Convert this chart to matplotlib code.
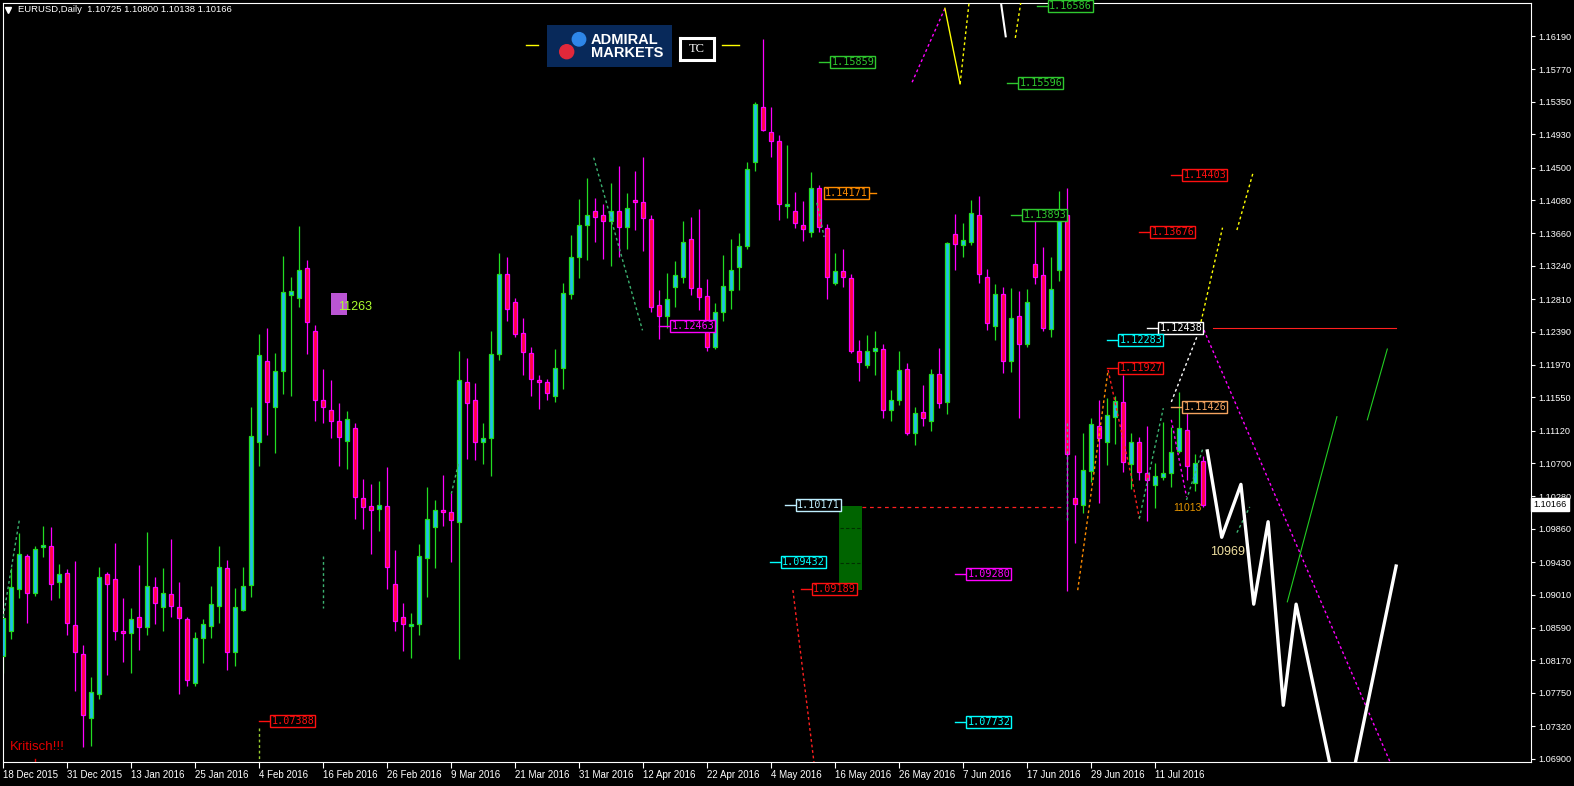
#!/usr/bin/env python3
# -*- coding: utf-8 -*-
"""
EURUSD Daily chart (MT4 style) with zigzag / level annotations
"""

import matplotlib
matplotlib.use('Agg')
import matplotlib.pyplot as plt
from matplotlib.patches import Rectangle, Circle
from matplotlib.lines import Line2D
import matplotlib.transforms as mtransforms

plt.rcParams['font.family'] = ['Liberation Sans', 'DejaVu Sans']

W, H = 1574, 786

# ---------------- OHLC data (daily bars, oldest first) ----------------
opens = [1.0823, 1.0854, 1.0909, 1.0951, 1.0903, 1.0963, 1.0964, 1.0917, 1.0929, 1.0862,
         1.0825, 1.0743, 1.0773, 1.0928, 1.0922, 1.0854, 1.0852, 1.0873, 1.0860, 1.0911,
         1.0886, 1.0902, 1.0886, 1.0870, 1.0788, 1.0845, 1.0861, 1.0887, 1.0935, 1.0827,
         1.0882, 1.0914, 1.1098, 1.1202, 1.1142, 1.1189, 1.1287, 1.1283, 1.1321, 1.1240,
         1.1152, 1.1138, 1.1124, 1.1099, 1.1115, 1.1026, 1.1015, 1.1011, 1.1015, 1.0915,
         1.0873, 1.0861, 1.0864, 1.0949, 1.0988, 1.1010, 1.1007, 1.0995, 1.1174, 1.1152,
         1.1098, 1.1102, 1.1210, 1.1313, 1.1277, 1.1237, 1.1212, 1.1177, 1.1175, 1.1157,
         1.1192, 1.1288, 1.1335, 1.1376, 1.1394, 1.1389, 1.1382, 1.1394, 1.1374, 1.1408,
         1.1406, 1.1384, 1.1273, 1.1260, 1.1297, 1.1310, 1.1358, 1.1296, 1.1285, 1.1219,
         1.1264, 1.1293, 1.1323, 1.1350, 1.1458, 1.1528, 1.1496, 1.1485, 1.1401, 1.1394,
         1.1377, 1.1368, 1.1424, 1.1372, 1.1302, 1.1317, 1.1308, 1.1214, 1.1197, 1.1215,
         1.1217, 1.1138, 1.1151, 1.1191, 1.1109, 1.1136, 1.1125, 1.1185, 1.1149, 1.1365,
         1.1351, 1.1354, 1.1389, 1.1310, 1.1246, 1.1288, 1.1202, 1.1259, 1.1223, 1.1326,
         1.1312, 1.1243, 1.1318, 1.1389, 1.1025, 1.1016, 1.1060, 1.1118, 1.1098, 1.1130,
         1.1149, 1.1069, 1.1097, 1.1057, 1.1042, 1.1052, 1.1057, 1.1086, 1.1113, 1.1045,
         1.10725]
highs = [1.0879, 1.0936, 1.0981, 1.0954, 1.0964, 1.0990, 1.0988, 1.0941, 1.0934, 1.0944,
         1.0836, 1.0795, 1.0937, 1.0930, 1.0967, 1.0897, 1.0884, 1.0940, 1.0982, 1.0924,
         1.0936, 1.0973, 1.0918, 1.0873, 1.0853, 1.0870, 1.0912, 1.0964, 1.0946, 1.0910,
         1.0937, 1.1142, 1.1236, 1.1244, 1.1212, 1.1337, 1.1309, 1.1375, 1.1331, 1.1248,
         1.1191, 1.1177, 1.1147, 1.1137, 1.1122, 1.1050, 1.1044, 1.1047, 1.1065, 1.0959,
         1.0891, 1.0878, 1.0966, 1.1040, 1.1023, 1.1055, 1.1032, 1.1215, 1.1206, 1.1173,
         1.1122, 1.1240, 1.1340, 1.1335, 1.1282, 1.1257, 1.1220, 1.1184, 1.1178, 1.1217,
         1.1302, 1.1364, 1.1410, 1.1437, 1.1411, 1.1403, 1.1430, 1.1452, 1.1418, 1.1446,
         1.1464, 1.1389, 1.1293, 1.1315, 1.1330, 1.1382, 1.1387, 1.1397, 1.1307, 1.1276,
         1.1338, 1.1359, 1.1366, 1.1457, 1.1535, 1.1616, 1.1528, 1.1492, 1.1479, 1.1419,
         1.1407, 1.1444, 1.1428, 1.1378, 1.1340, 1.1346, 1.1314, 1.1229, 1.1235, 1.1240,
         1.1224, 1.1164, 1.1214, 1.1199, 1.1142, 1.1171, 1.1191, 1.1218, 1.1355, 1.1391,
         1.1379, 1.1409, 1.1414, 1.1320, 1.1301, 1.1297, 1.1295, 1.1292, 1.1294, 1.1382,
         1.1348, 1.1335, 1.1420, 1.1424, 1.1081, 1.1109, 1.1128, 1.1152, 1.1154, 1.1156,
         1.1183, 1.1109, 1.1104, 1.1118, 1.1071, 1.1123, 1.1117, 1.1162, 1.1145, 1.1082,
         1.10800]
lows = [1.0800, 1.0844, 1.0897, 1.0865, 1.0900, 1.0950, 1.0895, 1.0897, 1.0849, 1.0777,
        1.0705, 1.0707, 1.0767, 1.0798, 1.0843, 1.0815, 1.0800, 1.0830, 1.0849, 1.0863,
        1.0855, 1.0873, 1.0773, 1.0784, 1.0784, 1.0814, 1.0846, 1.0865, 1.0805, 1.0810,
        1.0880, 1.0898, 1.1066, 1.1106, 1.1083, 1.1159, 1.1157, 1.1271, 1.1211, 1.1125,
        1.1122, 1.1102, 1.1067, 1.1063, 1.0999, 1.0986, 1.0954, 1.0983, 1.0908, 1.0855,
        1.0829, 1.0820, 1.0849, 1.0898, 1.0936, 1.0990, 1.0943, 1.0818, 1.1076, 1.1074,
        1.1069, 1.1054, 1.1203, 1.1253, 1.1233, 1.1184, 1.1156, 1.1140, 1.1151, 1.1149,
        1.1166, 1.1281, 1.1308, 1.1332, 1.1355, 1.1333, 1.1324, 1.1335, 1.1346, 1.1370,
        1.1343, 1.1265, 1.1230, 1.1244, 1.1271, 1.1302, 1.1287, 1.1267, 1.1215, 1.1217,
        1.1253, 1.1269, 1.1293, 1.1346, 1.1446, 1.1497, 1.1464, 1.1383, 1.1385, 1.1373,
        1.1356, 1.1361, 1.1368, 1.1281, 1.1299, 1.1297, 1.1212, 1.1176, 1.1193, 1.1184,
        1.1128, 1.1125, 1.1145, 1.1107, 1.1094, 1.1118, 1.1111, 1.1141, 1.1134, 1.1319,
        1.1335, 1.1351, 1.1302, 1.1242, 1.1229, 1.1186, 1.1187, 1.1128, 1.1219, 1.1300,
        1.1240, 1.1232, 1.1305, 1.0906, 1.0967, 1.1006, 1.1046, 1.1019, 1.1068, 1.1095,
        1.1059, 1.1037, 1.1049, 1.0996, 1.1012, 1.1048, 1.1039, 1.1083, 1.1049, 1.1034,
        1.10138]
closes = [1.0871, 1.0911, 1.0954, 1.0904, 1.0960, 1.0965, 1.0915, 1.0928, 1.0865, 1.0828,
          1.0746, 1.0776, 1.0924, 1.0915, 1.0854, 1.0852, 1.0870, 1.0860, 1.0913, 1.0890,
          1.0903, 1.0887, 1.0871, 1.0792, 1.0845, 1.0864, 1.0889, 1.0937, 1.0828, 1.0885,
          1.0912, 1.1105, 1.1209, 1.1149, 1.1189, 1.1290, 1.1291, 1.1318, 1.1252, 1.1152,
          1.1142, 1.1125, 1.1104, 1.1127, 1.1027, 1.1014, 1.1010, 1.1016, 1.0937, 1.0868,
          1.0863, 1.0863, 1.0951, 1.0998, 1.1010, 1.1007, 1.0997, 1.1177, 1.1147, 1.1098,
          1.1102, 1.1210, 1.1313, 1.1268, 1.1236, 1.1213, 1.1178, 1.1175, 1.1160, 1.1193,
          1.1289, 1.1335, 1.1377, 1.1389, 1.1387, 1.1381, 1.1395, 1.1374, 1.1398, 1.1406,
          1.1385, 1.1271, 1.1260, 1.1281, 1.1312, 1.1354, 1.1295, 1.1284, 1.1219, 1.1264,
          1.1298, 1.1318, 1.1350, 1.1449, 1.1532, 1.1498, 1.1484, 1.1403, 1.1403, 1.1379,
          1.1371, 1.1424, 1.1374, 1.1309, 1.1317, 1.1309, 1.1214, 1.1200, 1.1214, 1.1218,
          1.1138, 1.1151, 1.1190, 1.1109, 1.1135, 1.1128, 1.1185, 1.1148, 1.1353, 1.1352,
          1.1357, 1.1392, 1.1313, 1.1250, 1.1288, 1.1202, 1.1257, 1.1223, 1.1277, 1.1310,
          1.1244, 1.1294, 1.1383, 1.1082, 1.1018, 1.1061, 1.1121, 1.1102, 1.1132, 1.1150,
          1.1072, 1.1097, 1.1059, 1.1048, 1.1054, 1.1058, 1.1084, 1.1115, 1.1066, 1.1071,
          1.10166]

date_labels = ['18 Dec 2015', '31 Dec 2015', '13 Jan 2016', '25 Jan 2016', '4 Feb 2016',
               '16 Feb 2016', '26 Feb 2016', '9 Mar 2016', '21 Mar 2016', '31 Mar 2016',
               '12 Apr 2016', '22 Apr 2016', '4 May 2016', '16 May 2016', '26 May 2016',
               '7 Jun 2016', '17 Jun 2016', '29 Jun 2016', '11 Jul 2016']
price_ticks = [1.16190, 1.15770, 1.15350, 1.14930, 1.14500, 1.14080, 1.13660, 1.13240,
               1.12810, 1.12390, 1.11970, 1.11550, 1.11120, 1.10700, 1.10280, 1.09860,
               1.09430, 1.09010, 1.08590, 1.08170, 1.07750, 1.07320, 1.06900]
last_price = 1.10166

# ---------------- indicator levels (text, bar, price, colour) ----------------
level_texts = ['1.16586', '1.15859', '1.15596', '1.14403', '1.14171', '1.13893', '1.13676',
               '1.12463', '1.12438', '1.12283', '1.11927', '1.11426', '1.10171', '1.09432',
               '1.09280', '1.09189', '1.07732', '1.07388']
level_bars = [130.5, 103.3, 126.8, 147.3, 102.5, 127.3, 143.3,
              83.3, 144.3, 139.3, 139.3, 147.3, 99.0, 97.1,
              120.3, 101.0, 120.3, 33.3]
level_prices = [1.16586, 1.15859, 1.15596, 1.14403, 1.14171, 1.13893, 1.13676,
                1.12463, 1.12438, 1.12283, 1.11927, 1.11426, 1.10171, 1.09432,
                1.09280, 1.0909, 1.0738, 1.07388]
level_colors = ['#2FC82F', '#2FC82F', '#2FC82F', '#FF1010', '#FF8C00', '#2FC82F', '#FF1010',
                '#FF00FF', '#FFFFFF', '#00FFFF', '#FF1010', '#F4A460', '#BFEFFF', '#00FFFF',
                '#FF00FF', '#FF1010', '#00FFFF', '#FF1010']

# ---------------- zigzag / projection lines (bar, price) ----------------
dotted_lines = [
    ([0, 2], [1.0873, 1.0997], '#3CB371'),
    ([32, 32], [1.0730, 1.0680], '#9ACD32'),
    ([40, 40], [1.0951, 1.0884], '#3CB371'),
    ([56, 56.9], [1.1031, 1.1070], '#3CB371'),
    ([73.8, 79.9], [1.1463, 1.1241], '#3CB371'),
    ([101.7, 102.6], [1.1405, 1.1361], '#3CB371'),
    ([98.7, 101.4], [1.0907, 1.0680], '#FF2020'),
    ([113.6, 117.7], [1.1560, 1.1655], '#FF00FF'),
    ([119.6, 120.8], [1.1558, 1.1670], '#FFFF00'),
    ([126.5, 127.3], [1.1617, 1.1670], '#FFFF00'),
    ([132.9, 132.9], [1.1122, 1.0997], '#5F9EA0'),
    ([134.3, 138.1], [1.0907, 1.1190], '#FF8C00'),
    ([138.1, 139.8, 141.1, 142.0], [1.1190, 1.1109, 1.1049, 1.0999], '#FF2020'),
    ([142.0, 145.0], [1.0999, 1.1141], '#3CB371'),
    ([146.0, 149.4], [1.1149, 1.1238], '#FFFFFF'),
    ([149.4, 152.4], [1.1238, 1.1373], '#FFFF00'),
    ([154.2, 156.2], [1.1370, 1.1443], '#FFFF00'),
    ([146.0, 147.9], [1.1126, 1.1027], '#FF00FF'),
    ([147.9, 150.0], [1.1023, 1.1091], '#3CB371'),
    ([149.8, 173.6], [1.1248, 1.0680], '#FF00FF'),
    ([154.2, 155.8], [1.0981, 1.1014], '#3CB371'),
]
solid_lines = [
    ([117.7, 119.6], [1.1655, 1.1558], '#FFFF00', 1.0),
    ([124.6, 125.3], [1.1670, 1.1619], '#FFFFFF', 1.5),
    ([151.2, 174.1], [1.12438, 1.12438], '#FF2020', 0.8),
    ([160.5, 166.7], [1.0892, 1.1130], '#22CC22', 0.8),
    ([170.5, 173.0], [1.1126, 1.1217], '#22CC22', 0.8),
]
forecast_bars = [150.5, 152.3, 154.7, 156.3, 158.1, 160.0, 161.6, 165.9]
forecast_prices = [1.1086, 1.0975, 1.1043, 1.0889, 1.0995, 1.0759, 1.0889, 1.0680]
forecast2_bars = [168.9, 174.1]
forecast2_prices = [1.0680, 1.0938]


def px(x, y):
    """pixel -> figure fraction"""
    return x / W, 1 - y / H


fig = plt.figure(figsize=(W / 100, H / 100), dpi=100, facecolor='black')
ax = fig.add_axes([2.5 / W, 24 / H, (1531 - 2.5) / W, (762 - 2.5) / H])
ax.set_facecolor('black')
ax.set_xlim(-0.1, 190.96)
ax.set_ylim(1.06861, 1.16625)

# ---------------- candles ----------------
n = len(opens)
for i in range(n):
    o, hi, lo, c = opens[i], highs[i], lows[i], closes[i]
    bull = c >= o
    edge = '#22DD22' if bull else '#FF00FF'
    fill = '#1EC0E8' if bull else '#FF0A3C'
    ax.vlines(i, lo, hi, colors=edge, linewidth=0.9, zorder=2)
    ax.bar(i, abs(c - o), bottom=min(o, c), width=0.52, color=fill,
           edgecolor=edge, linewidth=0.9, zorder=3)

# ---------------- zigzag lines ----------------
for xs, ys, col in dotted_lines:
    ax.plot(xs, ys, color=col, lw=1.0, linestyle=(0, (2, 2)), zorder=4, clip_on=True)
for xs, ys, col, lw in solid_lines:
    ax.plot(xs, ys, color=col, lw=lw, zorder=4)
ax.plot(forecast_bars, forecast_prices, color='white', lw=2.4, zorder=5)
ax.plot(forecast2_bars, forecast2_prices, color='white', lw=2.4, zorder=5)

# green box + red dashed level
ax.add_patch(Rectangle((104.5, 1.0907), 2.8, 0.0108, facecolor='#006400', edgecolor='none', zorder=4))
ax.plot([104.6, 107.2], [1.0987, 1.0987], color='#003000', lw=0.8, ls=(0, (3, 2)), zorder=5)
ax.plot([104.6, 107.2], [1.0942, 1.0942], color='#003000', lw=0.8, ls=(0, (3, 2)), zorder=5)
ax.plot([107.3, 132.5], [1.1014, 1.1014], color='#FF2020', lw=0.9, ls=(0, (3, 3)), zorder=4)

# ---------------- level labels ----------------
for txt, b, p, col in zip(level_texts, level_bars, level_prices, level_colors):
    if txt == '1.14171':
        ax.plot([b + 5.3, b + 6.6], [p, p], color=col, lw=1, zorder=6)
    else:
        ax.plot([b - 1.3, b], [p, p], color=col, lw=1, zorder=6)
    ax.text(b + 0.2, p, txt, color=col, fontsize=7.3, family='DejaVu Sans Mono',
            va='center', ha='left', zorder=7, clip_on=False,
            bbox=dict(boxstyle='square,pad=0.1', facecolor='black', edgecolor=col, linewidth=1))

# small text markers
ax.add_patch(Rectangle((41.0, 1.1261), 2.0, 0.0028, facecolor='#BA55D3', edgecolor='none', zorder=6))
ax.text(41.8, 1.1271, '11263', color='#ADFF2F', fontsize=9, va='center', ha='left', zorder=7)
ax.text(146.2, 1.1013, '11013', color='#E69500', fontsize=7.5, va='center', ha='left', zorder=7)
ax.text(150.9, 1.0956, '10969', color='#F0E0A0', fontsize=9, va='center', ha='left', zorder=7)
ax.text(0.8, 1.0705, 'Kritisch!!!', color='#E00000', fontsize=9.5, va='center', ha='left', zorder=7)
ax.plot([4, 4], [1.0690, 1.0686], color='#E00000', lw=1)

# ---------------- axes styling ----------------
for s in ax.spines.values():
    s.set_color('white')
    s.set_linewidth(0.8)
ax.yaxis.tick_right()
ax.set_yticks(price_ticks)
ax.set_yticklabels(['%.5f' % v for v in price_ticks])
ax.set_xticks(range(0, 8 * len(date_labels), 8))
ax.set_xticklabels(date_labels, ha='left')
ax.tick_params(axis='x', colors='white', labelcolor='white', labelsize=7,
               length=4, width=0.8, pad=1.5)
ax.tick_params(axis='y', colors='white', labelcolor='white', labelsize=6.6,
               length=3, width=0.8, pad=2)

# last price marker on the scale
trans = mtransforms.blended_transform_factory(ax.transAxes, ax.transData)
ax.text(1.0015, last_price, '1.10166', transform=trans, color='black', fontsize=6.6,
        va='center', ha='left', zorder=8, clip_on=False,
        bbox=dict(boxstyle='square,pad=0.22', facecolor='white', edgecolor='white'))

# ---------------- header ----------------
fig.text(*px(18, 10), 'EURUSD,Daily  1.10725 1.10800 1.10138 1.10166', color='white',
         fontsize=6.8, va='center', ha='left')
fig.add_artist(Line2D([px(8, 10)[0]], [px(8, 10)[1]], marker='v', color='white',
                      markersize=4, transform=fig.transFigure))

# ---------------- logo ----------------
logo = fig.add_axes([547 / W, 1 - 67 / H, 125 / W, 42 / H])
logo.set_xlim(0, 125)
logo.set_ylim(42, 0)
logo.set_facecolor('#08295A')
logo.set_xticks([])
logo.set_yticks([])
for s in logo.spines.values():
    s.set_visible(False)
logo.add_patch(Circle((32, 14.3), 6.7, color='#2E86E8'))
logo.add_patch(Circle((19.7, 26.7), 7.0, color='#E0283A'))
logo.text(43.7, 14.8, 'ADMIRAL', color='white', fontsize=10.5, fontweight='bold', va='center', ha='left')
logo.text(43.7, 27.8, 'MARKETS', color='white', fontsize=10.5, fontweight='bold', va='center', ha='left')

tc = fig.add_axes([680 / W, 1 - 60 / H, 34 / W, 22 / H])
tc.set_facecolor('black')
tc.set_xticks([])
tc.set_yticks([])
for s in tc.spines.values():
    s.set_color('white')
    s.set_linewidth(2.2)
tc.text(0.5, 0.5, 'TC', color='white', fontsize=9, family='Liberation Serif',
        ha='center', va='center', transform=tc.transAxes)

for x0, x1 in [(526, 538), (722, 739)]:
    a, b = px(x0, 45)
    c, d = px(x1, 45)
    fig.add_artist(Line2D([a, c], [b, d], color='#FFFF00', lw=1, transform=fig.transFigure))

fig.savefig('out.png', dpi=100, facecolor='black')
